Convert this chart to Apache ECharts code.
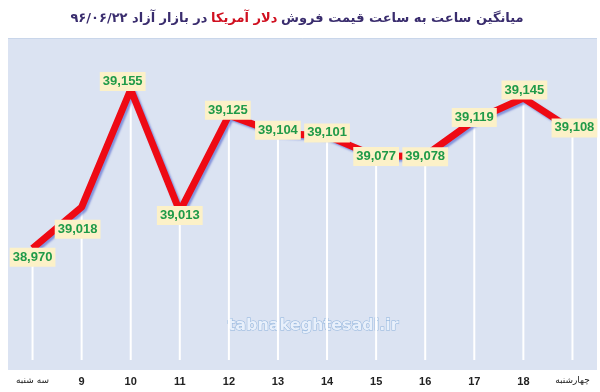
<!DOCTYPE html>
<html>
<head>
<meta charset="utf-8">
<script src="https://cdn.jsdelivr.net/npm/echarts@6/dist/echarts.min.js"></script>
<style>html,body{margin:0;padding:0;background:#fff}#c{width:600px;height:392px}</style>
</head>
<body>
<div id="c"></div>
<script>
const categories = ['سه شنبه','9','10','11','12','13','14','15','16','17','18','چهارشنبه'];
const prices = [38970, 39018, 39155, 39013, 39125, 39104, 39101, 39077, 39078, 39119, 39145, 39108];
const titleLeftPart = 'در بازار آزاد ۹۶/۰۶/۲۲';
const titleRedPart = 'دلار آمریکا';
const titleRightPart = 'میانگین ساعت به ساعت قیمت فروش';
const watermark = 'tabnakeghtesadi.ir';
// label nudges (style only), as placed in the original chart
const labelNudges = [[0,9],[-4,22],[-8,-8],[0,4],[-1,-5],[0,-3],[0,-3],[0,0],[0,1],[0,-3],[1,-8],[2,-2]];

const chart = echarts.init(document.getElementById('c'), null, {renderer:'canvas'});
const fmt = v => v.toLocaleString('en-US');
const isArabic = s => /[\u0600-\u06FF]/.test(s);
chart.setOption({
  animation: false,
  backgroundColor: '#ffffff',
  title: {
    left: 292, textAlign: 'center', top: 7,
    text: '{a|' + titleLeftPart + '}{s| }{r|' + titleRedPart + '}{s| }{a|' + titleRightPart + '}',
    textStyle: {
      rich: {
        a: {fontFamily: 'DejaVu Sans', fontWeight: 'bold', fontSize: 13, color: '#3a2d6e'},
        r: {fontFamily: 'DejaVu Sans', fontWeight: 'bold', fontSize: 13, color: '#d01020'},
        s: {fontSize: 13}
      }
    }
  },
  graphic: [
    {type: 'rect', z: -10, shape: {x: 8, y: 38, width: 589, height: 332}, style: {fill: '#dbe3f2'}},
    {type: 'line', z: -9, shape: {x1: 8, y1: 38.5, x2: 597, y2: 38.5}, style: {stroke: '#c9d6ea', lineWidth: 1}},
    {type: 'text', z: 1, left: 227, top: 317, style: {text: watermark, font: 'bold 16px "DejaVu Sans"', fill: '#e8f0fb', stroke: '#8fb3dc', lineWidth: 1}}
  ],
  grid: {left: 8, right: 3, top: 38, bottom: 32},
  xAxis: {
    type: 'category', data: categories, boundaryGap: true,
    axisLine: {show: false}, axisTick: {show: false},
    axisLabel: {
      margin: 16, interval: 0,
      formatter: v => isArabic(v) ? '{ar|' + v + '}' : '{n|' + v + '}',
      rich: {
        n: {fontSize: 11, fontWeight: 'bold', color: '#222', fontFamily: 'Liberation Sans'},
        ar: {fontSize: 9, color: '#222', fontFamily: 'DejaVu Sans'}
      }
    },
    splitLine: {show: false}
  },
  yAxis: {
    type: 'value', min: 38840, max: 39215, show: false, splitLine: {show: false}
  },
  series: [
    {
      type: 'bar', data: prices, barWidth: 2, silent: true,
      itemStyle: {color: '#ffffff'}
    },
    {
      type: 'line', symbol: 'circle', symbolSize: 0,
      data: prices.map((v, i) => ({value: v, label: {offset: labelNudges[i]}})),
      itemStyle: {color: '#ee0a14'},
      lineStyle: {color: '#ee0a14', width: 7, shadowColor: 'rgba(60,80,200,0.55)', shadowBlur: 2, shadowOffsetX: 2, shadowOffsetY: 2},
      label: {
        show: true, position: 'inside',
        formatter: p => fmt(p.value),
        fontFamily: 'Liberation Sans', fontWeight: 'bold', fontSize: 13, color: '#1f9a48',
        backgroundColor: '#fcf1c8', padding: [3, 3, 3, 3]
      }
    }
  ]
});
</script>
</body>
</html>
